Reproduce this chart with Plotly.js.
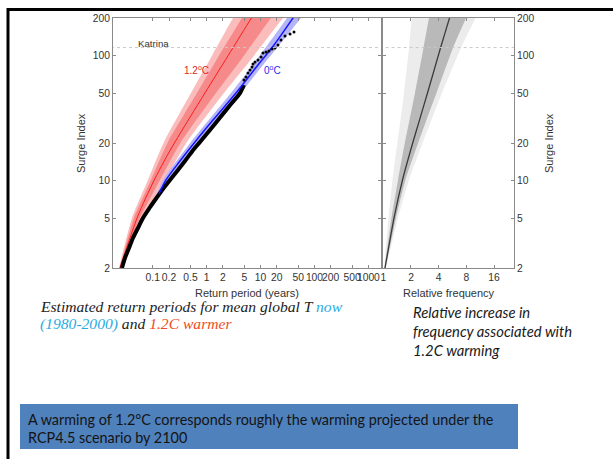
<!DOCTYPE html>
<html><head><meta charset="utf-8">
<script src="https://cdn.plot.ly/plotly-3.0.1.min.js"></script>
<style>html,body{margin:0;padding:0;background:#fff;overflow:hidden} #chart{width:613px;height:459px;}</style>
</head><body><div id="chart"></div>
<script>
// ---------- Left panel: return period (years) vs surge index ----------
// observed events (dense part, drawn as a thick band)
const obsDenseT = [0.0268,0.0305,0.0362,0.0429,0.0531,0.0658,0.0869,0.1171,0.1546,0.2085,0.2934,0.3958,0.5452,0.7511,1.151,1.803,2.824,4.148,4.92];
const obsDenseS = [2.0,2.405,2.89,3.475,4.178,5.02,6.04,7.26,8.57,10.12,12.16,14.35,17.26,20.37,25.4,32.3,41.0,50.2,58.2];
// observed events (sparse upper tail)
const obsTailT = [4.92,5.36,5.84,6.36,6.93,7.23,7.88,8.95,10.2,11.1,12.6,14.3,16.3,18.5,21.0,23.9,28.4,35.2,41.7];
const obsTailS = [63.8,67.5,72.6,76.7,81.1,85.7,88.9,92.3,97.5,105.0,106.9,108.9,113.0,115.1,121.6,133.4,143.5,148.9,154.5];
// 1.2°C warmer: central estimate
const warmT = [0.0246,0.03407,0.05112,0.07382,0.1066,0.1627,0.2581,0.9260,2.495,6.750,9.261];
const warmS = [2.0,3.05,5.02,7.26,10.12,14.35,20.37,50.2,100,200,249];
// 1.2°C warmer: uncertainty bands (boundaries at common surge levels)
const warmBandS = [2,5.02,10.12,20.37,50.2,100,200,249];
const warmOuterLoT = [0.0236,0.04113,0.08143,0.1613,0.5114,1.254,3.075,4.077];
const warmOuterHiT = [0.0257,0.06579,0.1684,0.4311,2.094,7.544,26.04,40.95];
const warmInnerLoT = [0.02411,0.04479,0.09261,0.1914,0.6607,1.691,4.517,5.990];
const warmInnerHiT = [0.02516,0.05787,0.1360,0.3336,1.488,4.920,15.59,23.49];
// 0°C (now): central estimate
const nowT = [0.1303,0.1757,0.3197,0.6066,1.309,3.497,7.544,17.73,39.9,56.2];
const nowS = [7.82,10.12,14.35,20.37,30.5,50.2,76.7,121.6,200,249];
// 0°C band
const nowBandS = [7.82,10.12,20.37,50.2,76.7,200,249];
const nowBandLoT = [0.1197,0.1546,0.5114,2.824,6.093,30.89,41.66];
const nowBandHiT = [0.1389,0.1998,0.7200,4.328,9.340,56.17,79.07];
// Katrina level
const katrinaS = 116;

// ---------- Right panel: relative frequency ----------
const rfS = [2.0,5.02,10.12,20.37,30.5,50.2,115.1,200,249];
const rfMid = [1.0435,1.3070,1.6168,2.1027,2.4739,3.0226,4.1844,5.2413,5.7210];
const rfLightLo = [1.0177,1.1389,1.2589,1.4266,1.5379,1.6785,1.9024,2.0355,2.0767];
const rfDarkLo = [1.0305,1.2278,1.4446,1.7212,1.9264,2.2107,2.7347,3.1379,3.2989];
const rfDarkHi = [1.0566,1.3741,1.7384,2.4129,2.9478,3.7860,5.7210,7.9213,8.7543];
const rfLightHi = [1.0699,1.4446,1.9024,2.7007,3.3405,4.3442,6.9890,10.047,11.385];

// ticks
const surgeTicks = [2,5,10,20,50,100,200];
const rpTicks = [0.1,0.2,0.5,1,2,5,10,20,50,100,200,500,1000];
const rfTicks = [1,2,4,8,16];

const W = 613, H = 459;
const px = v => v / W, py = v => 1 - v / H;

function poly(loX, loY, hiX, hiY) {
  return { x: loX.concat(hiX.slice().reverse()), y: loY.concat(hiY.slice().reverse()) };
}

const traces = [];
const ob = poly(warmOuterLoT, warmBandS, warmOuterHiT, warmBandS);
traces.push({x: ob.x, y: ob.y, xaxis:'x', yaxis:'y', mode:'lines', fill:'toself', fillcolor:'#fbbcbc', line:{width:0, shape:'spline', smoothing:0.6}, hoverinfo:'skip'});
const ib = poly(warmInnerLoT, warmBandS, warmInnerHiT, warmBandS);
traces.push({x: ib.x, y: ib.y, xaxis:'x', yaxis:'y', mode:'lines', fill:'toself', fillcolor:'#f68a8a', line:{width:0, shape:'spline', smoothing:0.6}, hoverinfo:'skip'});
const nb = poly(nowBandLoT, nowBandS, nowBandHiT, nowBandS);
traces.push({x: nb.x, y: nb.y, xaxis:'x', yaxis:'y', mode:'lines', fill:'toself', fillcolor:'#b4b4f6', line:{width:0, shape:'spline', smoothing:0.6}, hoverinfo:'skip'});
traces.push({x: warmT, y: warmS, xaxis:'x', yaxis:'y', mode:'lines', line:{color:'#ff1a1a', width:1, shape:'spline', smoothing:0.8}});
traces.push({x: obsDenseT, y: obsDenseS, xaxis:'x', yaxis:'y', mode:'lines', line:{color:'#000', width:4, shape:'spline', smoothing:0.8}});
traces.push({x: nowT, y: nowS, xaxis:'x', yaxis:'y', mode:'lines', line:{color:'#1414ff', width:1.5, shape:'spline', smoothing:0.8}});
traces.push({x: obsTailT, y: obsTailS, xaxis:'x', yaxis:'y', mode:'markers', marker:{color:'#000', size:3}});
traces.push({x: [0.001, 1e5], y: [katrinaS, katrinaS], xaxis:'x', yaxis:'y', mode:'lines', line:{color:'#c8c8c8', width:1, dash:'dot'}});

// right panel
const lb = poly(rfLightLo, rfS, rfLightHi, rfS);
traces.push({x: lb.x, y: lb.y, xaxis:'x2', yaxis:'y2', mode:'lines', fill:'toself', fillcolor:'#ececec', line:{width:0, shape:'spline', smoothing:0.5}, hoverinfo:'skip'});
const db = poly(rfDarkLo, rfS, rfDarkHi, rfS);
traces.push({x: db.x, y: db.y, xaxis:'x2', yaxis:'y2', mode:'lines', fill:'toself', fillcolor:'#b9b9b9', line:{width:0, shape:'spline', smoothing:0.5}, hoverinfo:'skip'});
traces.push({x: rfMid, y: rfS, xaxis:'x2', yaxis:'y2', mode:'lines', line:{color:'#3a3a3a', width:1.3, shape:'spline', smoothing:0.6}});
traces.push({x: [0.5, 100], y: [katrinaS, katrinaS], xaxis:'x2', yaxis:'y2', mode:'lines', line:{color:'#c8c8c8', width:1, dash:'dot'}});

const tickFont = {family:'Liberation Sans, Arial, sans-serif', size:10.3, color:'#333'};
const axBase = {type:'log', showgrid:false, zeroline:false, showline:true, linecolor:'#8a8a8a', linewidth:1,
  ticks:'inside', ticklen:3, tickcolor:'#8a8a8a', mirror:'ticks', tickfont:tickFont, tickmode:'array', tickangle:0};

const layout = {
  width: W, height: H, margin:{l:0,r:0,t:0,b:0}, paper_bgcolor:'#fff', plot_bgcolor:'#fff', showlegend:false,
  xaxis: Object.assign({}, axBase, {domain:[px(113), px(381)], range:[-1.738, 3.234], tickvals: rpTicks, ticktext: rpTicks.map(String), anchor:'y'}),
  yaxis: Object.assign({}, axBase, {domain:[py(268), py(18)], range:[Math.log10(2), Math.log10(200)], tickvals: surgeTicks, ticktext: surgeTicks.map(String), anchor:'x'}),
  xaxis2: Object.assign({}, axBase, {domain:[px(383.3), px(514)], range:[0, 1.4207], tickvals: rfTicks, ticktext: rfTicks.map(String), anchor:'y2'}),
  yaxis2: Object.assign({}, axBase, {domain:[py(268), py(18)], range:[Math.log10(2), Math.log10(200)], tickvals: surgeTicks, ticktext: surgeTicks.map(String), anchor:'x2', side:'right'}),
  shapes: [
    {type:'line', xref:'paper', yref:'paper', x0:px(7), x1:1, y0:py(9.5), y1:py(9.5), line:{color:'#000', width:3}},
    {type:'line', xref:'paper', yref:'paper', x0:px(8), x1:px(8), y0:py(8), y1:0, line:{color:'#000', width:3}},
    {type:'rect', xref:'paper', yref:'paper', x0:px(20), x1:px(518), y0:py(449), y1:py(404), fillcolor:'#4f81bd', line:{width:0}}
  ],
  annotations: []
};
const A = layout.annotations;
function ann(text, x, y, opts) {
  A.push(Object.assign({text, xref:'paper', yref:'paper', x:px(x), y:py(y), showarrow:false, xanchor:'center', yanchor:'middle',
    font:{family:'Liberation Sans, Arial, sans-serif', size:11, color:'#333'}}, opts||{}));
}
ann('Katrina', 153, 43, {font:{family:'Liberation Sans, Arial', size:9.7, color:'#333'}});
ann('1.2<sup>o</sup>C', 196, 70, {font:{family:'Liberation Sans, Arial', size:10, color:'#e02424'}});
ann('0<sup>o</sup>C', 272, 70, {font:{family:'Liberation Sans, Arial', size:10, color:'#2b2bea'}});
ann('Return period (years)', 247, 293);
ann('Relative frequency', 449, 293);
ann('Surge Index', 81, 143, {textangle:-90});
ann('Surge Index', 549, 143, {textangle:-90});
const serif = {family:'Liberation Serif, Times New Roman, serif', size:15.6, color:'#222'};
ann('<i>Estimated return periods for mean global T <span style="color:#29abe2">now</span></i>', 38, 306, {xanchor:'left', font:serif});
ann('<i><span style="color:#29abe2">(1980-2000)</span> and <span style="color:#f04a23">1.2C warmer</span></i>', 38, 324, {xanchor:'left', font:serif});
const sansI = {family:'Lato, sans-serif', size:14.8, color:'#1a1a1a'};
ann('<i>Relative increase in</i>', 411, 312, {xanchor:'left', font:sansI});
ann('<i>frequency associated with</i>', 411, 331, {xanchor:'left', font:sansI});
ann('<i>1.2C warming</i>', 411, 350, {xanchor:'left', font:sansI});
const boxF = {family:'Lato, sans-serif', size:14.4, color:'#141414'};
ann('A warming of 1.2°C corresponds roughly the warming projected under the', 26, 419, {xanchor:'left', font:boxF});
ann('RCP4.5 scenario by 2100', 26, 437, {xanchor:'left', font:boxF});

Plotly.newPlot('chart', traces, layout, {staticPlot:true, displayModeBar:false});
</script></body></html>
